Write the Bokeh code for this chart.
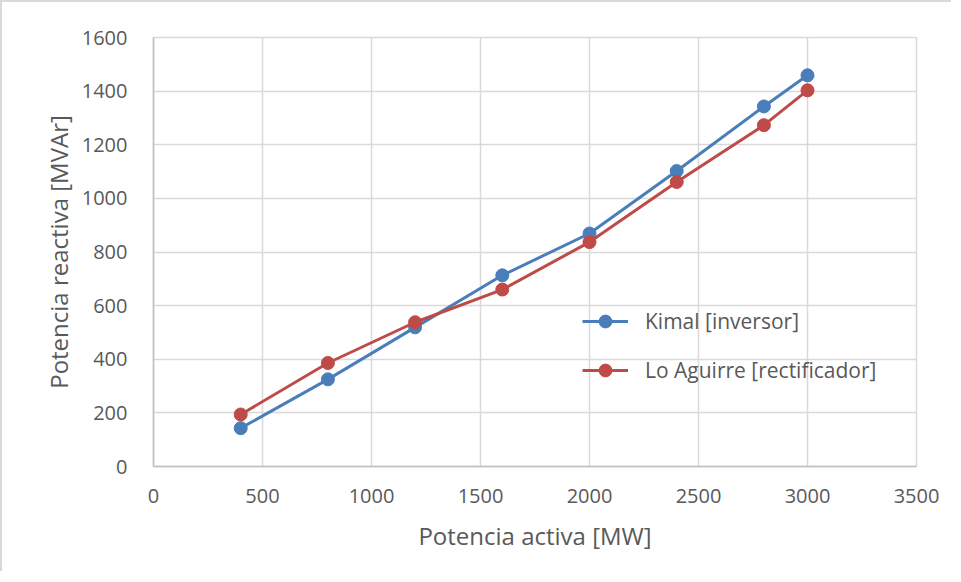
from bokeh.plotting import figure
from bokeh.models import Legend, LegendItem, Range1d, FixedTicker
from bokeh.embed import file_html
from bokeh.resources import INLINE

x_mw = [400, 800, 1200, 1600, 2000, 2400, 2800, 3000]
kimal = [143, 325, 519, 713, 869, 1102, 1343, 1459]
lo_aguirre = [194, 386, 538, 660, 837, 1061, 1273, 1403]
x_ticks = [0, 500, 1000, 1500, 2000, 2500, 3000, 3500]
y_ticks = [0, 200, 400, 600, 800, 1000, 1200, 1400, 1600]

FONT = "Open Sans"
GRAY = "#595959"
BLUE = "#4a7ebb"
RED = "#be4b48"

p = figure(width=951, height=571, output_backend="svg", toolbar_location=None,
           x_range=Range1d(0, 3500), y_range=Range1d(0, 1600),
           min_border_left=151, min_border_right=37, min_border_top=35, min_border_bottom=107)
p.styles = {"border-left": "2px solid #d9d9d9", "border-top": "2px solid #d9d9d9"}

p.xaxis.ticker = FixedTicker(ticks=x_ticks)
p.yaxis.ticker = FixedTicker(ticks=y_ticks)
for ax in (p.xaxis, p.yaxis):
    ax.axis_line_color = "#bfbfbf"
    ax.axis_line_width = 1.5
    ax.major_tick_line_color = None
    ax.minor_tick_line_color = None
    ax.major_label_text_font = FONT
    ax.major_label_text_font_size = "20px"
    ax.major_label_text_color = GRAY
    ax.axis_label_text_font = FONT
    ax.axis_label_text_font_size = "24px"
    ax.axis_label_text_font_style = "normal"
    ax.axis_label_text_color = GRAY
p.xaxis.axis_label = "Potencia activa [MW]"
p.yaxis.axis_label = "Potencia reactiva [MVAr]"
p.xaxis.major_label_standoff = 16
p.yaxis.major_label_standoff = 20
p.xaxis.axis_label_standoff = 13
p.yaxis.axis_label_standoff = 4

p.xgrid.grid_line_color = "#d9d9d9"
p.ygrid.grid_line_color = "#d9d9d9"
p.xgrid.grid_line_width = 1.5
p.ygrid.grid_line_width = 1.5
p.outline_line_color = "#d9d9d9"
p.outline_line_width = 1.5

l1 = p.line(x_mw, kimal, line_color=BLUE, line_width=3)
c1 = p.scatter(x_mw, kimal, size=13, fill_color=BLUE, line_color=BLUE)
l2 = p.line(x_mw, lo_aguirre, line_color=RED, line_width=3)
c2 = p.scatter(x_mw, lo_aguirre, size=13, fill_color=RED, line_color=RED)

legend = Legend(items=[LegendItem(label="Kimal [inversor]", renderers=[l1, c1]),
                       LegendItem(label="Lo Aguirre [rectificador]", renderers=[l2, c2])],
                location=(429, 80), padding=0, margin=0, spacing=17,
                glyph_width=46, glyph_height=32, label_height=32,
                label_standoff=17,
                label_text_font=FONT, label_text_font_size="21px", label_text_color=GRAY,
                background_fill_alpha=0, border_line_color=None)
p.add_layout(legend, "center")

open("out.html", "w").write(file_html(p, INLINE))
